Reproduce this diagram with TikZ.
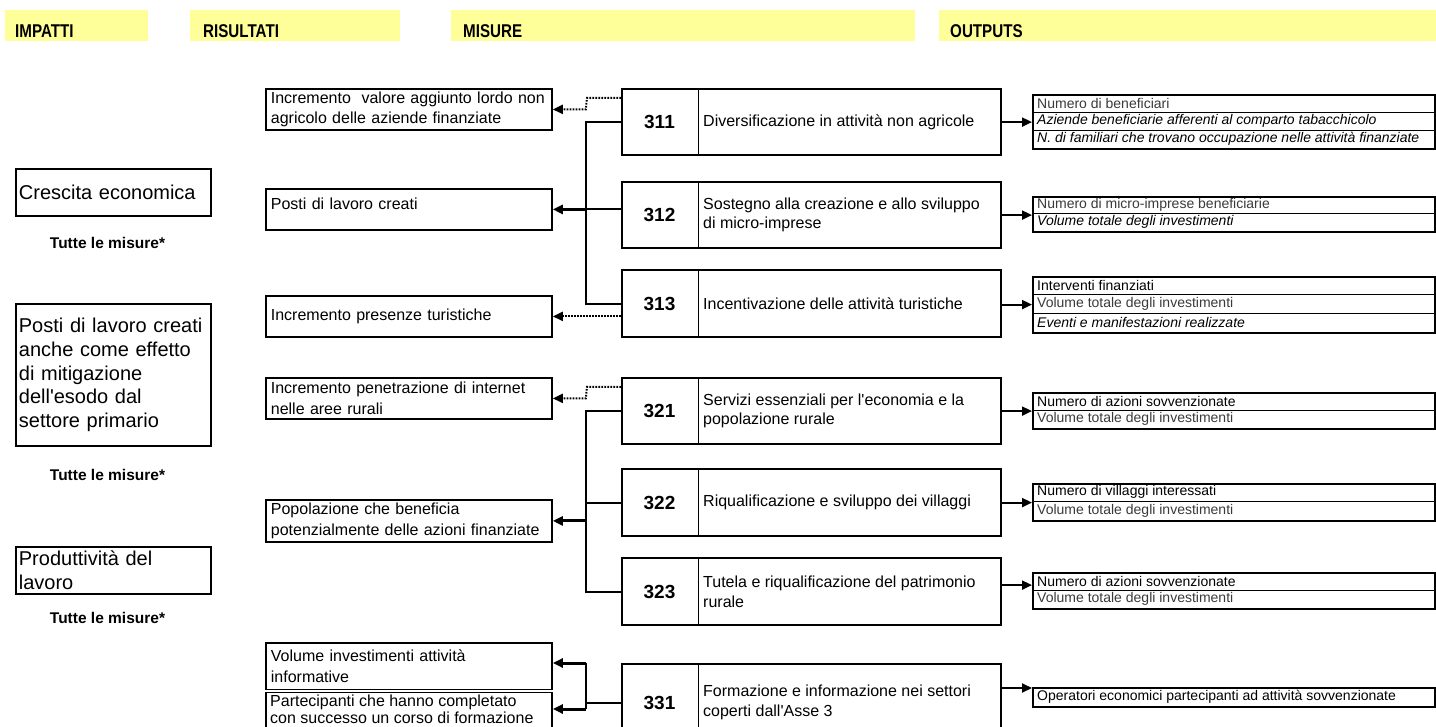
\documentclass[tikz,border=0pt]{standalone}
\usepackage{fontspec}
\setmainfont{Liberation Sans}
\newfontfamily\narrowsans[FakeStretch=0.82]{Liberation Sans}
\usetikzlibrary{arrows.meta,calc}
\definecolor{bandyellow}{HTML}{FFFF99}
\definecolor{softtext}{HTML}{3A3A3A}

% one measure: name, top y, height, code, description
\newcommand{\misura}[5]{%
  \node[measure, minimum height=#3pt] (#1) at (621,#2) {};
  \node[numtxt] (#1n) at ([xshift=38.5pt]#1.west) {#4};
  \draw[divline] ([xshift=77pt]#1.north west) -- ([xshift=77pt]#1.south west);
  \node[desctxt] (#1d) at ([xshift=82pt]#1.west) {#5};
}
% one row of an output table: table name, row name, row index, row height, style, text
\newcommand{\outrow}[6]{%
  \node[outtxt, #5] (#2) at ([xshift=5pt,yshift={-(#3-0.5)*#4}]#1.north west) {#6};
}
% measure -> output arrow, kept horizontal: measure, output, vertical offset
\newcommand{\tooutput}[3]{%
  \coordinate (#1a) at ([yshift=#3]#1.east);
  \draw[outarr] (#1a) -- (#1a -| #2.west);
}

\begin{document}
\begin{tikzpicture}[x=1pt,y=-1pt,
  band/.style={fill=bandyellow, draw=none, anchor=north west, inner sep=0pt, minimum height=31pt},
  headtxt/.style={anchor=base west, inner sep=0pt, font=\narrowsans\bfseries\fontsize{18.5}{20}\selectfont},
  note/.style={inner sep=0pt, font=\bfseries\fontsize{15.5}{18}\selectfont},
  impbox/.style={draw, line width=1.8pt, anchor=north west, minimum width=195pt,
    text width=189pt, inner xsep=3pt, inner ysep=0pt, align=left,
    font=\fontsize{20}{23.8}\selectfont},
  resbox/.style={draw, line width=1.8pt, anchor=north west, minimum width=286pt,
    text width=276pt, inner xsep=5pt, inner ysep=0pt, align=left,
    font=\fontsize{16}{20.5}\selectfont},
  restxt/.style={anchor=north west, inner sep=0pt, align=left,
    font=\fontsize{16}{17}\selectfont},
  measure/.style={draw, line width=2.2pt, anchor=north west, minimum width=379pt, inner sep=0pt},
  numtxt/.style={inner sep=0pt, font=\bfseries\fontsize{19}{22}\selectfont},
  desctxt/.style={anchor=west, inner sep=0pt, align=left, font=\fontsize{16}{19.5}\selectfont},
  divline/.style={line width=1pt},
  outbox/.style={draw, line width=2pt, anchor=north west, minimum width=402pt, inner sep=0pt},
  outtxt/.style={anchor=west, inner sep=0pt, font=\fontsize{14}{16}\selectfont},
  rowline/.style={line width=0.9pt},
  soft/.style={text=softtext},
  slant/.style={font=\itshape\fontsize{14}{16}\selectfont},
  trunk/.style={line width=2pt},
  resarr/.style={line width=3pt, -{Triangle[length=10pt,width=9pt]}},
  dotarr/.style={line width=2pt, dash pattern=on 1.6pt off 1.4pt, -{Triangle[length=10pt,width=9pt]}},
  outarr/.style={line width=2pt, -{Triangle[length=10pt,width=9pt]}}
]
\useasboundingbox (0,0) rectangle (1436,727);
\clip (0,0) rectangle (1436,727);
\fill[white] (0,0) rectangle (1436,727);

% column headers
\node[band, minimum width=143pt] (bImp) at (5,10) {};
\node[band, minimum width=210pt] (bRis) at (190,10) {};
\node[band, minimum width=464pt] (bMis) at (451,10) {};
\node[band, minimum width=497pt] (bOut) at (939,10) {};
\node[headtxt] (hImp) at (15,38) {IMPATTI};
\node[headtxt] (hRis) at (203,38) {RISULTATI};
\node[headtxt] (hMis) at (463,38) {MISURE};
\node[headtxt] (hOut) at (950,38) {OUTPUTS};

% impacts
\node[impbox, minimum height=47pt] (i1) at (15,168) {Crescita economica};
\node[note] (t1) at (107.5,243) {Tutte le misure*};
\node[impbox, minimum height=142pt] (i2) at (15,303) {Posti di lavoro creati\\anche come effetto\\di mitigazione\\dell\textquotesingle esodo dal\\settore primario};
\node[note] (t2) at (107.5,475) {Tutte le misure*};
\node[impbox, minimum height=47pt] (i3) at (15,546) {Produttività del\\lavoro};
\node[note] (t3) at (107.5,618) {Tutte le misure*};

% results
\node[resbox, minimum height=41pt] (r1) at (265,88) {Incremento\ \ valore aggiunto lordo non\\agricolo delle aziende finanziate};
\node[resbox, minimum height=41pt] (r2) at (265,188) {Posti di lavoro creati\\[-9.5pt]\mbox{}};
\node[resbox, minimum height=41pt] (r3) at (265,295) {Incremento presenze turistiche};
\node[resbox, minimum height=41pt] (r4) at (265,377) {Incremento penetrazione di internet\\nelle aree rurali};
\node[resbox, minimum height=42pt] (r5) at (265,499) {Popolazione che beneficia\\potenzialmente delle azioni finanziate};
\node[resbox, minimum height=46.5pt] (r6) at (265,642) {Volume investimenti attività\\informative};
\node[resbox, minimum height=50pt] (r7) at (265,691.5) {};
\node[restxt] (r7t) at ([xshift=5pt,yshift=-3.5pt]r7.north west) {Partecipanti che hanno completato\\con successo un corso di formazione};

% measures
\misura{m311}{88}{66}{311}{Diversificazione in attività non agricole}
\misura{m312}{181}{66}{312}{Sostegno alla creazione e allo sviluppo\\di micro-imprese}
\misura{m313}{269}{67}{313}{Incentivazione delle attività turistiche}
\misura{m321}{377}{66}{321}{Servizi essenziali per l\textquotesingle economia e la\\popolazione rurale}
\misura{m322}{468}{67}{322}{Riqualificazione e sviluppo dei villaggi}
\misura{m323}{557}{67}{323}{Tutela e riqualificazione del patrimonio\\rurale}
\misura{m331}{663}{77}{331}{Formazione e informazione nei settori\\coperti dall\textquotesingle Asse 3}

% outputs
\node[outbox, minimum height=54pt] (o311) at (1032,94) {};
\draw[rowline] ([yshift=-18pt]o311.north west) -- ([yshift=-18pt]o311.north east);
\draw[rowline] ([yshift=-36pt]o311.north west) -- ([yshift=-36pt]o311.north east);
\outrow{o311}{o311a}{1}{18pt}{soft}{Numero di beneficiari}
\outrow{o311}{o311b}{2}{18pt}{slant}{Aziende beneficiarie afferenti al comparto tabacchicolo}
\outrow{o311}{o311c}{3}{18pt}{slant}{N. di familiari che trovano occupazione nelle attività finanziate}

\node[outbox, minimum height=35pt] (o312) at (1032,196) {};
\draw[rowline] ([yshift=-17.5pt]o312.north west) -- ([yshift=-17.5pt]o312.north east);
\outrow{o312}{o312a}{1}{17.5pt}{soft}{Numero di micro-imprese beneficiarie}
\outrow{o312}{o312b}{2}{17.5pt}{slant}{Volume totale degli investimenti}

\node[outbox, minimum height=56pt] (o313) at (1032,276) {};
\draw[rowline] ([yshift=-18.7pt]o313.north west) -- ([yshift=-18.7pt]o313.north east);
\draw[rowline] ([yshift=-37.3pt]o313.north west) -- ([yshift=-37.3pt]o313.north east);
\outrow{o313}{o313a}{1}{18.7pt}{}{Interventi finanziati}
\outrow{o313}{o313b}{2}{18.7pt}{soft}{Volume totale degli investimenti}
\outrow{o313}{o313c}{3}{18.7pt}{slant}{Eventi e manifestazioni realizzate}

\node[outbox, minimum height=36pt] (o321) at (1032,392) {};
\draw[rowline] ([yshift=-18pt]o321.north west) -- ([yshift=-18pt]o321.north east);
\outrow{o321}{o321a}{1}{18pt}{}{Numero di azioni sovvenzionate}
\outrow{o321}{o321b}{2}{18pt}{soft}{Volume totale degli investimenti}

\node[outbox, minimum height=37pt] (o322) at (1032,483) {};
\draw[rowline] ([yshift=-18.5pt]o322.north west) -- ([yshift=-18.5pt]o322.north east);
\outrow{o322}{o322a}{1}{18.5pt}{}{Numero di villaggi interessati}
\outrow{o322}{o322b}{2}{18.5pt}{soft}{Volume totale degli investimenti}

\node[outbox, minimum height=36pt] (o323) at (1032,572) {};
\draw[rowline] ([yshift=-18pt]o323.north west) -- ([yshift=-18pt]o323.north east);
\outrow{o323}{o323a}{1}{18pt}{}{Numero di azioni sovvenzionate}
\outrow{o323}{o323b}{2}{18pt}{soft}{Volume totale degli investimenti}

\node[outbox, minimum height=19pt] (o331) at (1032,687) {};
\outrow{o331}{o331a}{1}{19pt}{}{Operatori economici partecipanti ad attività sovvenzionate}

% measures -> outputs
\tooutput{m311}{o311}{0pt}
\tooutput{m312}{o312}{0pt}
\tooutput{m313}{o313}{-1pt}
\tooutput{m321}{o321}{0pt}
\tooutput{m322}{o322}{0pt}
\tooutput{m323}{o323}{6.5pt}
\coordinate (a331) at ([yshift=-1pt]o331.north west);
\draw[outarr] (a331 -| m331.east) -- (a331);

% measures -> results
\coordinate (j1) at (586,0);
% axis 3.1
\draw[dotarr] ([yshift=-10pt]m311.north west) -- ++(-34,0) -- ($(r1.east)+(33,0)$) -- (r1.east);
\draw[trunk] (m311.west) -| (j1 |- m313.west) -- (m313.west);
\draw[trunk] (m312.west |- r2.east) -- (j1 |- r2.east);
\draw[resarr] (j1 |- r2.east) -- (r2.east);
\draw[dotarr] (m313.west |- r3.east) -- (r3.east);
% axis 3.2
\draw[dotarr] ([yshift=-10pt]m321.north west) -- ++(-34,0) -- ($(r4.east)+(33,0)$) -- (r4.east);
\draw[trunk] (m321.west) -| (j1 |- m323.west) -- (m323.west);
\draw[trunk] (m322.west) -- (j1 |- m322.west);
\draw[resarr] (j1 |- r5.east) -- (r5.east);
% axis 3.3
\coordinate (k6) at (586,663);
\coordinate (k7) at (586,709);
\draw[trunk] (m331.west) -- (j1 |- m331.west);
\draw[trunk] (k6) -- (k7);
\draw[resarr] (k6) -- (k6 -| r6.east);
\draw[resarr] (k7) -- (k7 -| r7.east);
\end{tikzpicture}
\end{document}
